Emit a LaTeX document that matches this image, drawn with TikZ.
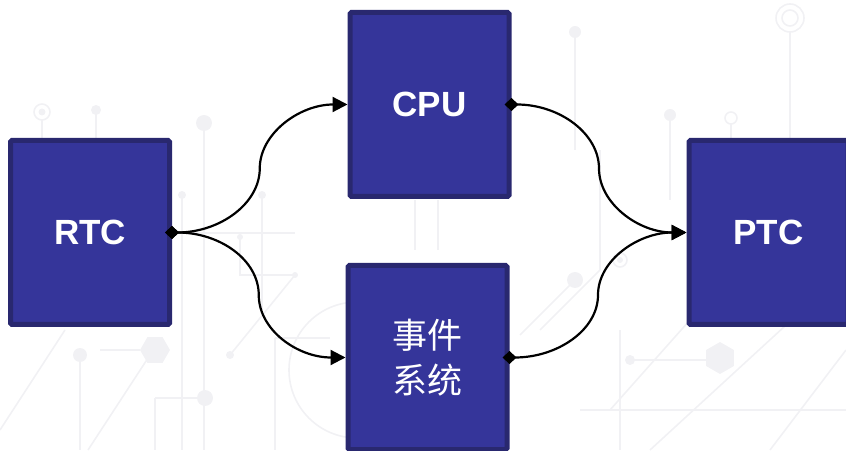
\documentclass[tikz,border=0pt]{standalone}
\usepackage{fontspec}
\setmainfont{Liberation Sans}
\newfontfamily\cjk{Noto Sans CJK SC}
\usetikzlibrary{arrows.meta,calc}

\definecolor{boxfill}{HTML}{35359A}
\definecolor{boxedge}{HTML}{29286F}
\definecolor{trace}{HTML}{F1F1F4}

\tikzset{
  block/.style={draw=boxedge, line width=5pt, fill=boxfill, rounded corners=1.5pt,
    minimum width=159pt, minimum height=184pt, inner sep=0pt,
    text=white, font=\fontsize{35}{42}\selectfont\bfseries},
  cjkblock/.style={block, font=\cjk\fontsize{35}{45}\selectfont, align=center},
  link/.style={line width=2.2pt, draw=black,
    {Diamond[length=14pt,width=13pt]}-{Triangle[length=15pt,width=15pt]},
    shorten <=-7pt},
  wire/.style={draw=trace, line width=1.6pt},
  pad/.style={fill=trace, draw=none},
}

\begin{document}
\begin{tikzpicture}[x=1pt,y=1pt]
\useasboundingbox (0,0) rectangle (846,450);
\clip (0,0) rectangle (846,450);

% faint circuit-board backdrop
\begin{scope}
  % left side
  \draw[wire] (42,338) circle (8);
  \fill[pad] (42,338) circle (3.5);
  \draw[wire] (42,330) -- (42,300);
  \draw[wire] (96,340) -- (96,300);
  \fill[pad] (96,340) circle (5);
  \draw[wire] (204,327) -- (204,0);
  \fill[pad] (204,327) circle (8);
  \draw[wire] (182,255) -- (182,0);
  \fill[pad] (182,255) circle (4);
  \draw[wire] (262,255) -- (262,140);
  \fill[pad] (262,255) circle (4);
  \draw[wire] (172,217) -- (295,217);
  \draw[wire] (240,213) -- (240,175) -- (295,175);
  \fill[pad] (240,213) circle (3);
  \fill[pad] (295,175) circle (3);
  \draw[wire] (295,175) -- (230,95);
  \fill[pad] (230,95) circle (4);
  \draw[wire] (275,112) -- (275,0);
  \draw[wire] (275,112) -- (330,112);
  % bottom left
  \fill[pad] (80,95) circle (7);
  \draw[wire] (80,95) -- (80,0);
  \fill[pad] (205,52) circle (8);
  \draw[wire] (155,52) -- (205,52);
  \draw[wire] (155,52) -- (155,0);
  \draw[wire] (0,20) -- (65,120);
  \draw[wire] (88,0) -- (150,95);
  \fill[pad] ($(155,100)+(0:15)$) -- ($(155,100)+(60:15)$) -- ($(155,100)+(120:15)$)
    -- ($(155,100)+(180:15)$) -- ($(155,100)+(240:15)$) -- ($(155,100)+(300:15)$) -- cycle;
  \draw[wire] (140,100) -- (100,100);
  \draw[wire] (357,80) circle (68);
  % middle
  \draw[wire] (415,250) -- (415,200);
  \draw[wire] (438,250) -- (438,200);
  % right side
  \draw[wire] (790,432) circle (14);
  \draw[wire] (790,432) circle (8);
  \draw[wire] (790,418) -- (790,310);
  \fill[pad] (575,418) circle (6);
  \draw[wire] (575,418) -- (575,300);
  \fill[pad] (670,335) circle (6);
  \draw[wire] (670,335) -- (670,250);
  \draw[wire] (731,332) circle (6);
  \draw[wire] (731,326) -- (731,300);
  \draw[wire] (600,300) -- (600,180);
  \draw[wire] (620,190) circle (7);
  \fill[pad] (620,190) circle (3);
  \draw[wire] (690,248) -- (690,300);
  \draw[wire] (620,120) -- (620,0);
  \draw[wire] (540,120) -- (600,180);
  \fill[pad] (575,170) circle (8);
  \draw[wire] (575,170) -- (520,115);
  \draw[wire] (650,0) -- (846,180);
  \draw[wire] (610,40) -- (690,130);
  \fill[pad] (630,90) circle (5);
  \draw[wire] (630,90) -- (720,90);
  \fill[pad] ($(720,92)+(30:16)$) -- ($(720,92)+(90:16)$) -- ($(720,92)+(150:16)$)
    -- ($(720,92)+(210:16)$) -- ($(720,92)+(270:16)$) -- ($(720,92)+(330:16)$) -- cycle;
  \draw[wire] (770,0) -- (846,100);
  \draw[wire] (580,40) -- (846,40);
\end{scope}

% blocks
\node[block]    (rtc) at (90,217.5)   {RTC};
\node[block]    (cpu) at (429.5,345.5) {CPU};
\node[cjkblock] (evt) at (427.5,92.5)  {事件\\系统};
\node[block]    (ptc) at (768.5,217.5) {PTC};

% midpoints of the S-shaped connectors
\coordinate (m1) at ($(rtc.east)!0.5!(cpu.west)$);
\coordinate (m2) at ($(rtc.east)!0.5!(evt.west)$);
\coordinate (m3) at ($(cpu.east)!0.5!(ptc.west)$);
\coordinate (m4) at ($(evt.east)!0.5!(ptc.west)$);

% connectors
\draw[link] (rtc.east) .. controls +(48,0) and +(0,-35) .. (m1)
  .. controls +(0,35) and +(-48,0) .. (cpu.west);
\draw[link] (rtc.east) .. controls +(48,0) and +(0,35) .. (m2)
  .. controls +(0,-35) and +(-48,0) .. (evt.west);
\draw[link] (cpu.east) .. controls +(48,0) and +(0,35) .. (m3)
  .. controls +(0,-35) and +(-48,0) .. (ptc.west);
\draw[link] (evt.east) .. controls +(48,0) and +(0,-35) .. (m4)
  .. controls +(0,35) and +(-48,0) .. (ptc.west);
\end{tikzpicture}
\end{document}
